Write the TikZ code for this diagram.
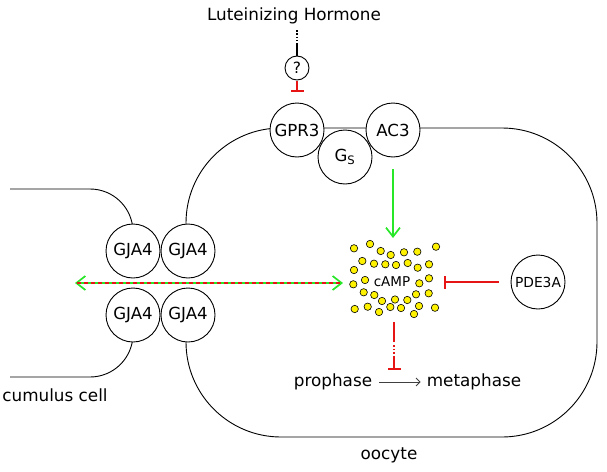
\documentclass[tikz,border=0pt]{standalone}
\usepackage{fontspec}
\setmainfont{DejaVu Sans}
\usetikzlibrary{arrows.meta}
\definecolor{ired}{RGB}{230,20,20}
\definecolor{agreen}{RGB}{40,230,40}
\begin{document}
\begin{tikzpicture}[x=1pt,y=-1pt,
 mol/.style={circle,draw,fill=white,minimum size=54pt,inner sep=0pt,line width=0.9pt,font=\fontsize{16.6}{19}\selectfont},
 lbl/.style={font=\fontsize{16.8}{19}\selectfont,inner sep=0pt},
 dot/.style={circle,draw,fill=yellow,minimum size=7.4pt,inner sep=0pt,line width=0.6pt},
 memb/.style={line width=0.9pt},
 inh/.style={ired, line width=1.7pt, -{Bar[width=13pt,line width=1.7pt]}},
 act/.style={agreen, line width=1.7pt, -{Straight Barb[length=9pt,width=14pt,line width=1.7pt]}},
]
\useasboundingbox (0,0) rectangle (607,471);
% membranes
\draw[memb, rounded corners=95pt] (186,250) -- (186,128) -- (597,128) -- (597,437) -- (186,437) -- (186,320);
\draw[memb, rounded corners=43pt] (133,250) -- (133,189) -- (10,189);
\draw[memb, rounded corners=43pt] (133,320) -- (133,377) -- (10,377);
% molecules
\node[mol] (gpr3) at (297,130) {GPR3};
\node[mol] (gs) at (345,157) {G\textsubscript{S}};
\node[mol] (ac3) at (393,130) {AC3};
\node[mol] (g1) at (133,251) {GJA4};
\node[mol] (g2) at (188,251) {GJA4};
\node[mol] (g3) at (133,315) {GJA4};
\node[mol] (g4) at (188,315) {GJA4};
\node[mol, font=\fontsize{13.8}{16}\selectfont] (pde) at (538,282) {PDE3A};
\node[circle,draw,line width=0.9pt,minimum size=24pt,inner sep=0pt,font=\fontsize{15.5}{18}\selectfont] (q) at (297,68) {?};
% texts
\node[lbl] (lh) at (294,16) {Luteinizing Hormone};
\node[lbl] (cc) at (55,395) {cumulus cell};
\node[lbl] (ooc) at (389,455) {oocyte};
\node[lbl] (pro) at (333,382) {prophase};
\node[lbl] (meta) at (474,382) {metaphase};
% LH -> ?
\coordinate (lhd) at (297,30);
\coordinate (lhs) at (297,43);
\draw[line width=1.2pt, dash pattern=on 1.5pt off 1.8pt] (lhd) -- (lhs);
\draw[line width=1.2pt] (lhs) -- (q.north);
% ? -| GPR3
\coordinate (qi) at (297,92);
\draw[inh, shorten <=1pt] (q.south) -- (qi);
% cAMP
\node[inner sep=0pt, font=\fontsize{13.5}{15}\selectfont] (camp) at (392,282) {cAMP};
\foreach \x/\y in {354/248.3,370/244,380.7/251,390.7/255,404/252.3,417.3/251.7,436/246.7,
  362.3/261,374/263.7,385.3/264.3,396/265,407.7/263,417.7/267.7,429/264.3,
  354/270,365/280,353.3/284.3,419.3/283.3,429/278.3,
  363.7/292.3,374.3/295,382/301,395/299.5,407.3/300,416/294.3,428.7/293.3,
  354.7/309,367.7/306.7,379/312,390.3/307,401/308,419/306,414/314,435/307.7}
  \node[dot] at (\x,\y) {};
% AC3 -> cAMP
\coordinate (as) at (393,169);
\coordinate (ae) at (393,238);
\draw[act] (as) -- (ae);
% gap junction arrow
\coordinate (gl) at (75,283);
\coordinate (gr) at (343,283);
\draw[agreen, line width=1.7pt, {Straight Barb[length=9pt,width=14pt,line width=1.7pt]}-{Straight Barb[length=9pt,width=14pt,line width=1.7pt]}] (gl) -- (gr);
\draw[ired, line width=1.7pt, dash pattern=on 4pt off 3pt, shorten <=2pt, shorten >=2pt] (gl) -- (gr);
% PDE3A -| cAMP
\coordinate (pb) at (444,282);
\draw[inh] (pde.west) ++(-12,0) coordinate (ps) (ps) -- (pb);
% cAMP -| transition
\coordinate (cs) at (394,322);
\coordinate (cb) at (394,370);
\draw[inh, dash pattern=on 20pt off 3pt on 1.5pt off 2pt on 1.5pt off 2pt on 1.5pt off 2pt on 40pt] (cs) -- (cb);
% prophase -> metaphase
\draw[gray!50!black, line width=0.9pt, -{Straight Barb[length=4pt,width=8pt,line width=0.9pt]}, shorten <=7pt, shorten >=6pt] (pro) -- (meta);
\end{tikzpicture}
\end{document}
